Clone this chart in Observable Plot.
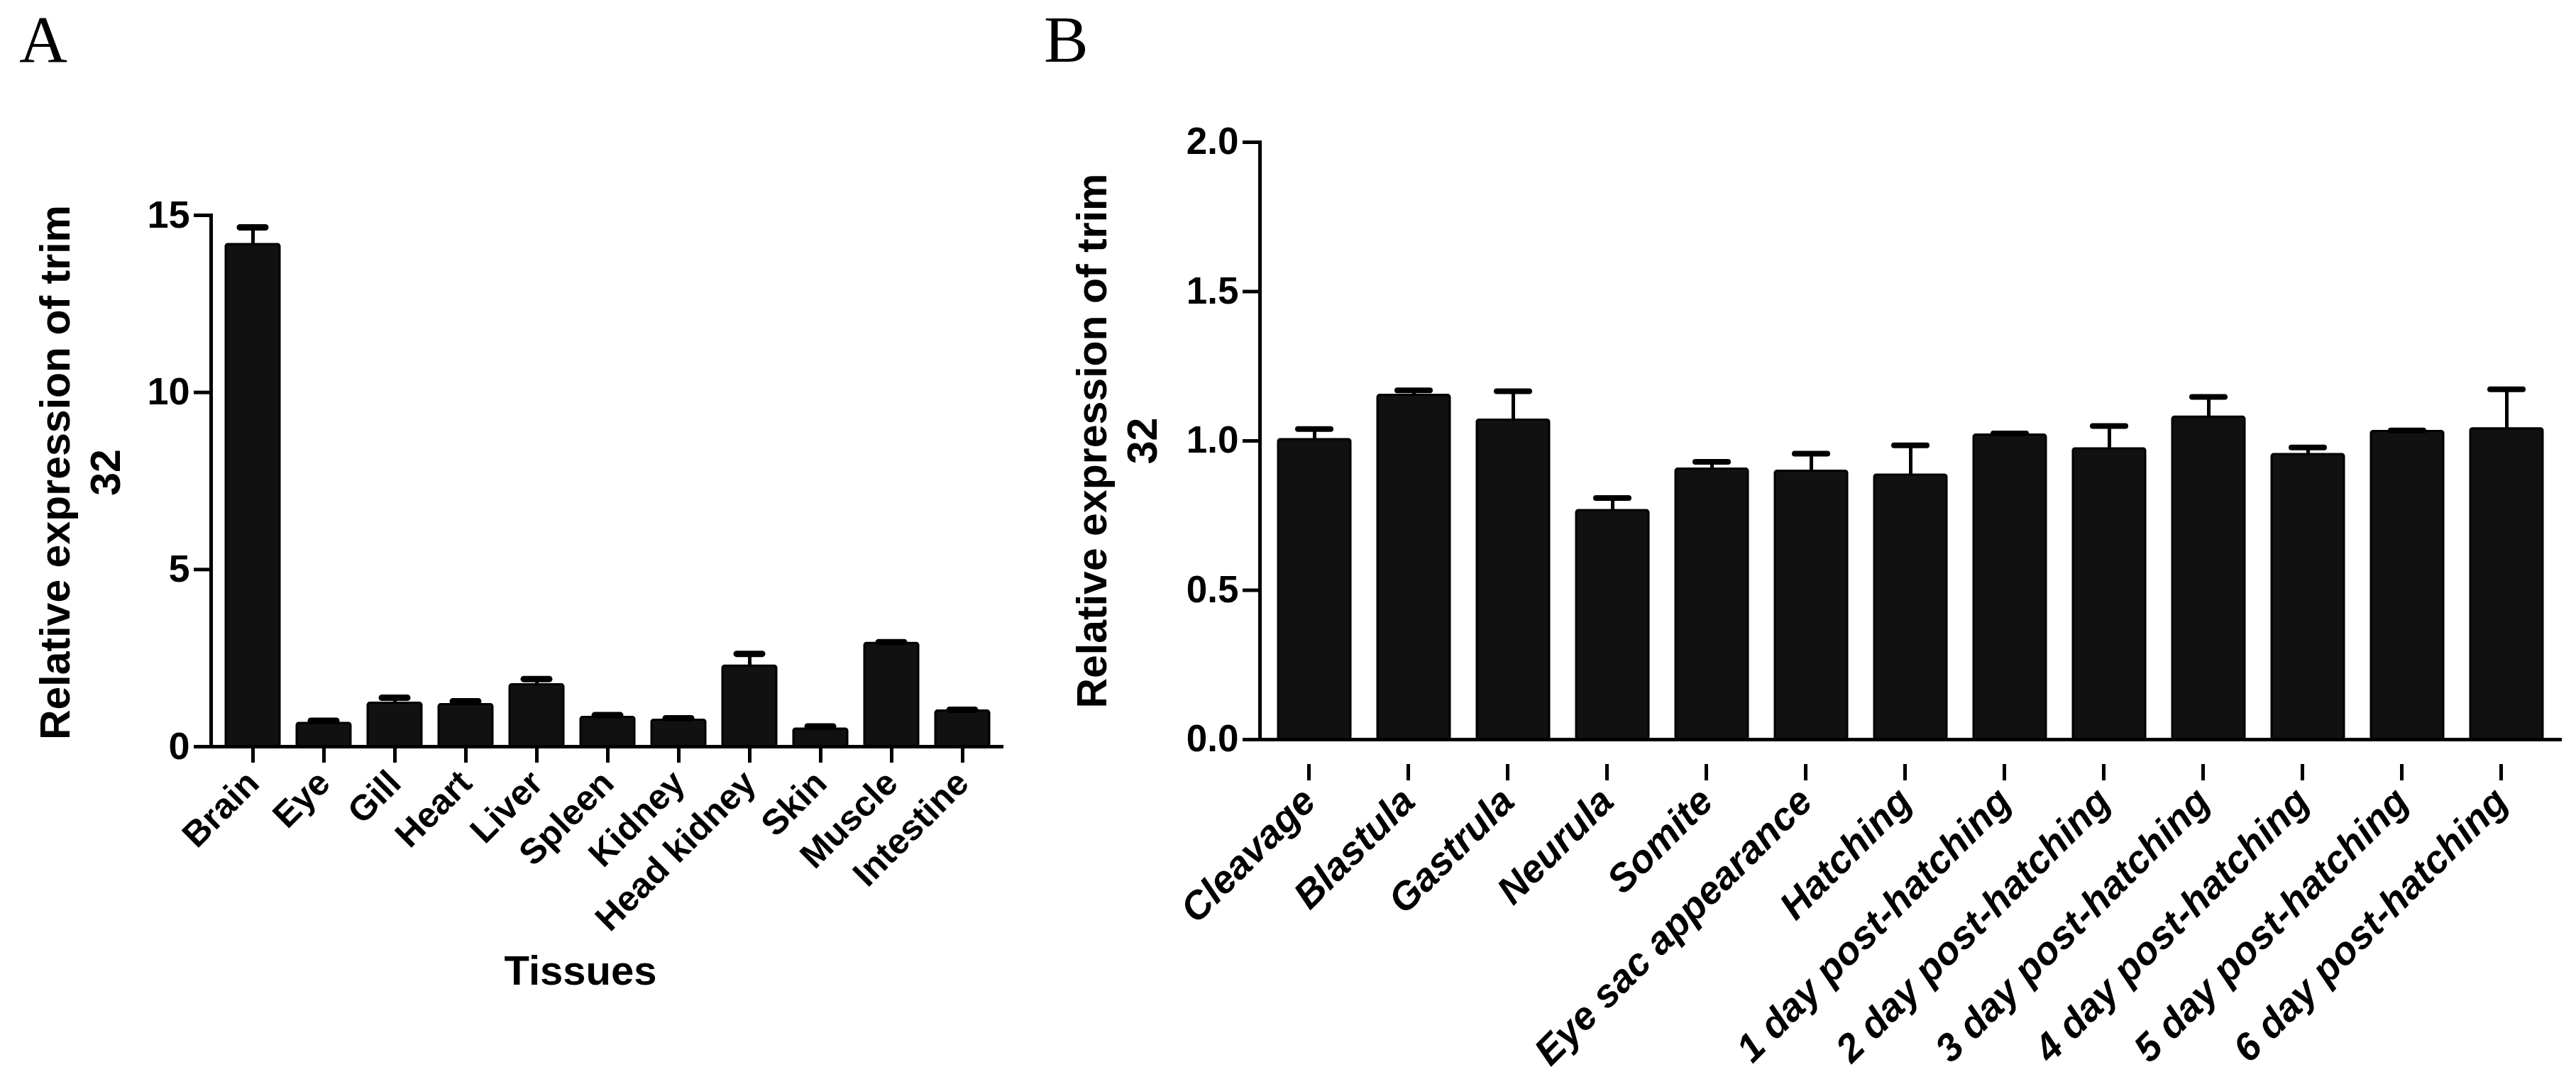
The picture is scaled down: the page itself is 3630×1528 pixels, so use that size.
<!DOCTYPE html>
<html><head><meta charset="utf-8">
<script src="https://cdn.jsdelivr.net/npm/d3@7"></script>
<script src="https://cdn.jsdelivr.net/npm/@observablehq/plot@0.6"></script>
<style>
body{margin:0;background:#fff;}
#fig{position:relative;width:3630px;height:1528px;background:#fff;overflow:hidden;}
.panel{position:absolute;top:0;height:1528px;}
.tag{position:absolute;font-family:"Liberation Serif","Times New Roman",serif;font-size:94px;line-height:94px;color:#000;}
</style></head>
<body><div id="fig">
<div class="tag" style="left:27px;top:8px">A</div>
<div class="tag" style="left:1471px;top:8px">B</div>
<div id="pa" class="panel" style="left:0;width:1450px"></div>
<div id="pb" class="panel" style="left:1450px;width:2180px"></div>
</div>
<script>
// Panel A: tissues
const tissues = ["Brain","Eye","Gill","Heart","Liver","Spleen","Kidney","Head kidney","Skin","Muscle","Intestine"];
const tissueMean = [14.18, 0.66, 1.23, 1.19, 1.75, 0.83, 0.75, 2.28, 0.50, 2.92, 1.01];
const tissueErr  = [0.48, 0.07, 0.15, 0.09, 0.16, 0.06, 0.05, 0.34, 0.07, 0.03, 0.03];
const yTicksA = [0, 5, 10, 15];

// Panel B: developmental stages
const stages = ["Cleavage","Blastula","Gastrula","Neurula","Somite","Eye sac appearance","Hatching",
  "1 day post-hatching","2 day post-hatching","3 day post-hatching","4 day post-hatching","5 day post-hatching","6 day post-hatching"];
const stageMean = [1.005, 1.153, 1.07, 0.767, 0.906, 0.899, 0.886, 1.02, 0.974, 1.08, 0.955, 1.032, 1.041];
const stageErr  = [0.035, 0.016, 0.096, 0.042, 0.024, 0.058, 0.099, 0.005, 0.076, 0.067, 0.023, 0.003, 0.132];
const yTicksB = [0, 0.5, 1.0, 1.5, 2.0];

const yLabel = "Relative expression of trim\n32";
const xLabelA = "Tissues";

const FONT = "'Liberation Sans', Arial, Helvetica, sans-serif";

function panel(o) {
  const data = o.names.map((n, i) => ({name: n, v: o.mean[i], e: o.err[i]}));
  return Plot.plot({
    width: o.width, height: 1528,
    marginLeft: o.marginLeft, marginRight: o.marginRight, marginTop: o.marginTop, marginBottom: o.marginBottom,
    style: {background: "transparent", fontFamily: FONT, overflow: "visible", color: "#000"},
    x: {domain: o.names, paddingInner: o.padIn, paddingOuter: o.padOut, label: null, axis: null},
    y: {domain: o.yDomain, label: null, axis: null},
    marks: [
      Plot.barY(data, {x: "name", y: "v", fill: "#111", stroke: "#000", strokeWidth: 3, rx: 3}),
      Plot.ruleX(data, {x: "name", y1: "v", y2: d => d.v + d.e, stroke: "#000", strokeWidth: 5}),
      Plot.tickY(data, {x: "name", y: d => d.v + d.e, stroke: "#000", strokeWidth: o.capW, strokeLinecap: "round", inset: o.capInset}),
      Plot.frame({anchor: "left", stroke: "#000", strokeWidth: 5}),
      Plot.ruleY([0], {stroke: "#000", strokeWidth: 5}),
      Plot.axisY({ticks: o.yTicks, tickFormat: o.tickFormat, tickSize: 24, tickPadding: 6, strokeWidth: 5,
        fontSize: o.yFont, fontWeight: "bold", label: null}),
      Plot.axisX({tickRotate: -45, tickSize: 23, tickPadding: o.xPad, strokeWidth: 5, dx: o.xDx, dy: o.xDy,
        fontSize: o.xFont, fontWeight: "bold", fontStyle: o.xStyle, label: null}),
      Plot.text([yLabel], {text: d => d, frameAnchor: "left", rotate: -90, dx: o.labelDx, dy: o.labelDy,
        textAnchor: "middle", lineAnchor: "top", lineHeight: 1.2, fontSize: 59, fontWeight: "bold"}),
      ...(o.extra || [])
    ]
  });
}

document.getElementById("pa").append(panel({
  names: tissues, mean: tissueMean, err: tissueErr,
  width: 1450, marginLeft: 297, marginRight: 36, marginTop: 303, marginBottom: 476,
  yDomain: [0, 15], yTicks: yTicksA, tickFormat: d3.format("d"), yFont: 54,
  padIn: 0.24, padOut: 0.15, capW: 9, capInset: 20,
  xPad: 20, xDx: 0, xDy: 0, xFont: 50, xStyle: "normal",
  labelDx: -250, labelDy: -12,
  extra: [Plot.text([xLabelA], {text: d => d, frameAnchor: "bottom", dx: -38, dy: 317, lineAnchor: "middle",
    fontSize: 58, fontWeight: "bold"})]
}));

document.getElementById("pb").append(panel({
  names: stages, mean: stageMean, err: stageErr,
  width: 2180, marginLeft: 325, marginRight: 20, marginTop: 200, marginBottom: 486,
  yDomain: [0, 2], yTicks: yTicksB, tickFormat: d3.format(".1f"), yFont: 53,
  padIn: 0.27, padOut: 0.16, capW: 8, capInset: 28,
  xPad: 20, xDx: -8, xDy: 35, xFont: 55, xStyle: "italic",
  labelDx: -267, labelDy: 0
}));
</script>
</body></html>
